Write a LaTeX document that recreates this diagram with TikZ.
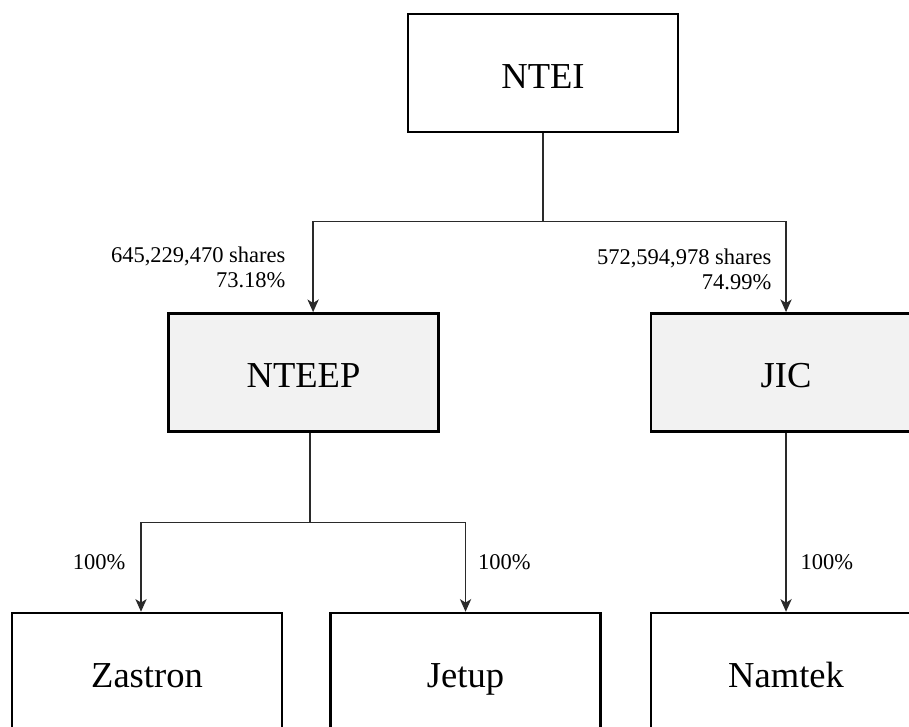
\documentclass[tikz,border=0pt]{standalone}
\usepackage{fontspec}
\setmainfont{Liberation Serif}
\usetikzlibrary{calc}
\usetikzlibrary{positioning}
\usetikzlibrary{arrows.meta}
\definecolor{boxgrey}{HTML}{F2F2F2}
\definecolor{linegrey}{HTML}{2A2A2A}

\begin{document}
\begin{tikzpicture}[->, >={Stealth[length=9pt, width=8pt, inset=2.5pt]}, draw=linegrey, line width=1pt]
    \tikzstyle{block}=[draw=black, rectangle, fill=white, line width=1.8pt, minimum width=6.75cm, minimum height=2.95cm, inner sep=2pt, text height=26pt, text depth=4.6pt, font=\fontsize{26}{30}\selectfont]
    \tikzstyle{sub}=[block, fill=boxgrey]
    \tikzstyle{share}=[inner sep=0pt, align=right, font=\fontsize{16}{17.7}\selectfont]

    \useasboundingbox (0,0) rectangle (22.725,-18.15);

	\node[block] (ntei) at (13.575,-1.825) {NTEI};
	\node[sub] (nteep) at (7.5875,-9.31) {NTEEP};
	\node[sub, right=5.25cm of nteep] (jic) {JIC};
	\node[block] (zastron) at (3.675,-16.8) {Zastron};
	\node[block, right=1.15cm of zastron] (jetup) {Jetup};
	\node[block, right=1.2cm of jetup] (namtek) {Namtek};

    % first level
    \coordinate (topbus) at ($(ntei.south)+(0,-2.2)$);
    \coordinate (nteepin) at ($(nteep.north)+(0.24,0)$);
    \draw[-] (ntei.south) -- (topbus);
    \draw (topbus) -| (nteepin);
    \draw (topbus) -| (jic.north);

    % second level
    \coordinate (nteepout) at ($(nteep.south)+(0.16,0)$);
    \coordinate (midbus) at ($(nteepout)+(0,-2.25)$);
    \coordinate (zastronin) at ($(zastron.north)+(-0.15,0)$);
    \draw[-] (nteepout) -- (midbus);
    \draw (midbus) -| (zastronin);
    \draw (midbus) -| (jetup.north);
    \draw (jic.south) -- (jic.south |- namtek.north);

    \node[share, anchor=east] (holdA) at ($(nteepin)+(-0.675,1.11)$) {645,229,470 shares\\73.18\%};
    \node[share, anchor=east] (holdB) at ($(jic.north)+(-0.35,1.06)$) {572,594,978 shares\\74.99\%};
    \node[share, anchor=east] (pctA) at ($(zastronin)+(-0.375,1.25)$) {100\%};
    \node[share, anchor=west] (pctB) at ($(jetup.north)+(0.3,1.25)$) {100\%};
    \node[share, anchor=west] (pctC) at ($(jic.south |- namtek.north)+(0.35,1.25)$) {100\%};

\end{tikzpicture}
\end{document}
